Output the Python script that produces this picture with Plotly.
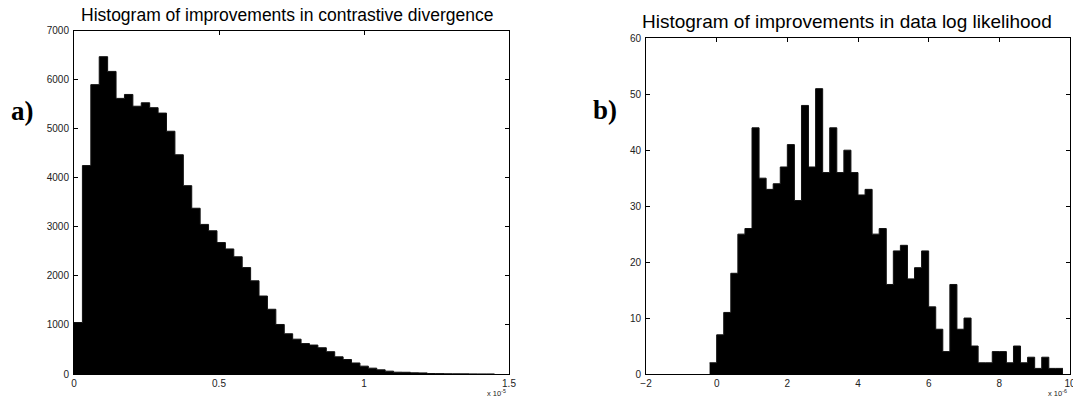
import plotly.graph_objects as go

# ---- Data: panel a (units of 1e-5), 50 bins of width 0.029 starting at 0
a_bin_start = 0.0
a_bin_width = 0.029
a_counts = [1050, 4250, 5900, 6470, 6170, 5620, 5700, 5460, 5530, 5430,
            5320, 4950, 4470, 3840, 3380, 3050, 2920, 2680, 2550, 2390,
            2170, 1900, 1590, 1320, 1010, 820, 710, 620, 590, 535,
            455, 350, 295, 225, 160, 119, 85, 58, 37, 35,
            24, 22, 10, 8, 5, 4, 3, 2, 1, 1]

# ---- Data: panel b (units of 1e-6), 50 bins of width 0.2 starting at -0.2
b_bin_start = -0.2
b_bin_width = 0.2
b_counts = [2, 7, 11, 18, 25, 26, 44, 35, 33, 34,
            37, 41, 31, 48, 37, 51, 36, 44, 36, 40,
            36, 32, 33, 25, 26, 16, 22, 23, 17, 19,
            22, 12, 8, 4, 16, 8, 10, 5, 2, 2,
            4, 4, 2, 5, 2, 3, 1, 3, 1, 1]

a_xticks = [0, 0.5, 1, 1.5]
a_yticks = [0, 1000, 2000, 3000, 4000, 5000, 6000, 7000]
b_xticks = [-2, 0, 2, 4, 6, 8, 10]
b_yticks = [0, 10, 20, 30, 40, 50, 60]

title_a = "Histogram of improvements in contrastive divergence"
title_b = "Histogram of improvements in data log likelihood"

W, H = 1073, 402


def step_xy(start, width, counts):
    xs = [start + i * width for i in range(len(counts) + 1)]
    ys = list(counts) + [counts[-1]]
    return xs, ys


ax_x, ax_y = step_xy(a_bin_start, a_bin_width, a_counts)
bx_x, bx_y = step_xy(b_bin_start, b_bin_width, b_counts)

fig = go.Figure()
fig.add_trace(go.Scatter(x=ax_x, y=ax_y, mode="lines", line=dict(shape="hv", color="#111", width=1),
                         fill="tozeroy", fillcolor="black", xaxis="x", yaxis="y",
                         showlegend=False, hoverinfo="skip"))
fig.add_trace(go.Scatter(x=bx_x, y=bx_y, mode="lines", line=dict(shape="hv", color="#111", width=1),
                         fill="tozeroy", fillcolor="black", xaxis="x2", yaxis="y2",
                         showlegend=False, hoverinfo="skip"))


def px_x(p):
    return p / W


def px_y(p):
    return (H - p) / H


tick_font = dict(family="Liberation Sans, Arial, sans-serif", size=10, color="#222")
axis_common = dict(showline=True, linecolor="black", linewidth=1, mirror="allticks",
                   ticks="inside", ticklen=4, tickcolor="black", tickwidth=1,
                   showgrid=False, zeroline=False, tickfont=tick_font, automargin=False,
                   ticklabeloverflow="allow")

fig.update_layout(
    width=W, height=H,
    margin=dict(l=0, r=0, t=0, b=0),
    paper_bgcolor="white", plot_bgcolor="white",
    xaxis=dict(domain=[px_x(74), px_x(509)], range=[0, 1.5], tickvals=a_xticks,
               ticktext=[str(v) for v in a_xticks], anchor="y", **axis_common),
    yaxis=dict(domain=[px_y(374), px_y(30.7)], range=[0, 7000], tickvals=a_yticks,
               anchor="x", ticklabelstandoff=2, **axis_common),
    xaxis2=dict(domain=[px_x(646), px_x(1070)], range=[-2, 10], tickvals=b_xticks,
                anchor="y2", **axis_common),
    yaxis2=dict(domain=[px_y(374), px_y(38.3)], range=[0, 60], tickvals=b_yticks,
                anchor="x2", ticklabelstandoff=2, **axis_common),
)

title_a_font = dict(family="Liberation Sans, Arial, sans-serif", size=17.5, color="black")
title_b_font = dict(family="Liberation Sans, Arial, sans-serif", size=19, color="black")
label_font = dict(family="Liberation Serif, DejaVu Serif, serif", size=27, color="black")
exp_font = dict(family="Liberation Sans, Arial, sans-serif", size=7.5, color="#222")

annotations = [
    dict(text=title_a, x=px_x(287), y=px_y(15), xref="paper", yref="paper",
         showarrow=False, font=title_a_font, xanchor="center", yanchor="middle"),
    dict(text=title_b, x=px_x(847), y=px_y(22), xref="paper", yref="paper",
         showarrow=False, font=title_b_font, xanchor="center", yanchor="middle"),
    dict(text="<b>a)</b>", x=px_x(9), y=px_y(111), xref="paper", yref="paper",
         showarrow=False, font=label_font, xanchor="left", yanchor="middle"),
    dict(text="<b>b)</b>", x=px_x(591), y=px_y(110), xref="paper", yref="paper",
         showarrow=False, font=label_font, xanchor="left", yanchor="middle"),
    dict(text="x 10<sup>-5</sup>", x=px_x(485), y=px_y(393), xref="paper", yref="paper",
         showarrow=False, font=exp_font, xanchor="left", yanchor="middle"),
    dict(text="x 10<sup>-6</sup>", x=px_x(1046), y=px_y(393), xref="paper", yref="paper",
         showarrow=False, font=exp_font, xanchor="left", yanchor="middle"),
]
fig.update_layout(annotations=annotations)

fig.write_html("out.html")
